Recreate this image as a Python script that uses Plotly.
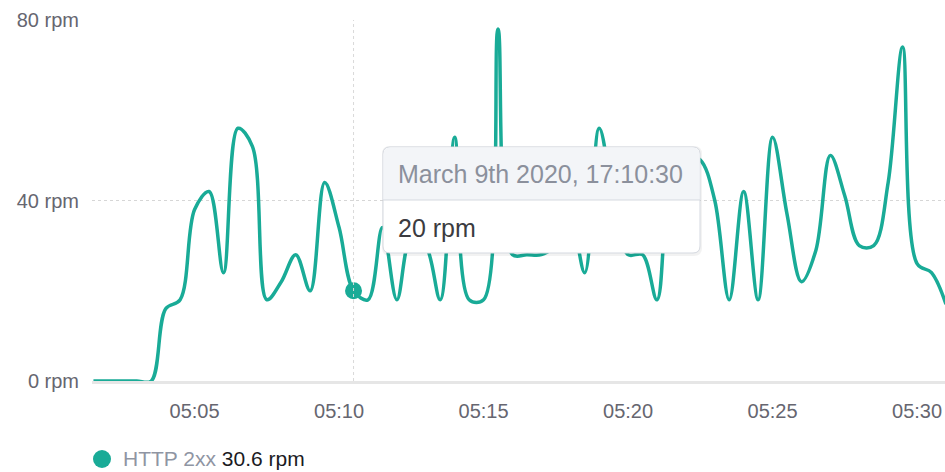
import plotly.graph_objects as go

# ---------------- data ----------------
date = "2020-03-09"
times = [
    "05:01:30", "05:02:00", "05:02:30", "05:03:00", "05:03:30", "05:04:00",
    "05:04:30", "05:05:00", "05:05:30", "05:06:00", "05:06:30", "05:07:00",
    "05:07:30", "05:08:00", "05:08:30", "05:09:00", "05:09:30", "05:10:00",
    "05:10:30", "05:11:00", "05:11:30", "05:12:00", "05:12:30", "05:13:00",
    "05:13:30", "05:14:00", "05:14:30", "05:15:00", "05:15:30", "05:16:00",
    "05:16:30", "05:17:00", "05:17:30", "05:18:00", "05:18:30", "05:19:00",
    "05:19:30", "05:20:00", "05:20:30", "05:21:00", "05:21:30", "05:22:00",
    "05:22:30", "05:23:00", "05:23:30", "05:24:00", "05:24:30", "05:25:00",
    "05:25:30", "05:26:00", "05:26:30", "05:27:00", "05:27:30", "05:28:00",
    "05:28:30", "05:29:00", "05:29:30", "05:30:00", "05:30:30", "05:31:00",
]
rpm = [
    0, 0, 0, 0, 0, 16,
    18, 38, 42, 24, 56, 52,
    18, 22, 28, 20, 44, 34,
    20, 18, 34, 18, 32, 30,
    18, 54, 18, 18, 78, 28,
    28, 28, 30, 36, 24, 56,
    40, 28, 28, 18, 46, 50,
    49, 40, 18, 42, 18, 54,
    37, 22, 29, 50, 41, 30,
    30, 44, 74, 26, 24, 17,
]
y_ticks = [0, 40, 80]
x_tick_labels = ["05:05", "05:10", "05:15", "05:20", "05:25", "05:30"]
x_range = ["05:01:27", "05:30:58"]
hover_time = "05:10:30"
tooltip_title = "March 9th 2020, 17:10:30"
series_name = "HTTP 2xx"
series_summary = "30.6 rpm"
unit = " rpm"

# ---------------- style ----------------
W, H = 945, 472
ML, MR, MT, MB = 92, 0, 20, 91
PW, PH = W - ML - MR, H - MT - MB
TEAL = "#19ab97"
FONT = "Liberation Sans, Arial, sans-serif"


def px(xp):
    """page pixel x -> paper fraction"""
    return (xp - ML) / PW


def py(yp):
    """page pixel y -> paper fraction"""
    return (H - MB - yp) / PH


def rounded_path(x0, y0, x1, y1, r_top, r_bot):
    def P(x, y):
        return f"{px(x):.5f},{py(y):.5f}"
    s = f"M {P(x0 + r_top, y0)} L {P(x1 - r_top, y0)} "
    s += f"Q {P(x1, y0)} {P(x1, y0 + r_top)} " if r_top else ""
    s += f"L {P(x1, y1 - r_bot)} "
    s += f"Q {P(x1, y1)} {P(x1 - r_bot, y1)} " if r_bot else ""
    s += f"L {P(x0 + r_bot, y1)} "
    s += f"Q {P(x0, y1)} {P(x0, y1 - r_bot)} " if r_bot else ""
    s += f"L {P(x0, y0 + r_top)} "
    s += f"Q {P(x0, y0)} {P(x0 + r_top, y0)} " if r_top else ""
    s += "Z"
    return s


xs = [f"{date} {t}" for t in times]
hi = times.index(hover_time)

fig = go.Figure()
fig.add_trace(go.Scatter(
    x=xs, y=rpm, mode="lines",
    line=dict(color=TEAL, width=3.5, shape="spline", smoothing=1.0),
    hoverinfo="skip", showlegend=False,
))
fig.add_trace(go.Scatter(
    x=[xs[hi]], y=[rpm[hi]], mode="markers",
    marker=dict(color=TEAL, size=17, line=dict(width=0)),
    hoverinfo="skip", showlegend=False, cliponaxis=False,
))

shapes = []
# crosshair
shapes.append(dict(type="line", xref="x", yref="y", x0=xs[hi], x1=xs[hi],
                   y0=y_ticks[0], y1=y_ticks[-1], layer="above",
                   line=dict(color="#d9d9d9", width=1, dash="dot")))
# tooltip
tx0, ty0, tx1, ty1, hy = 383, 147, 700, 253, 200
shapes.append(dict(type="path", xref="paper", yref="paper", layer="above",
                   path=rounded_path(tx0 - 1, ty0 - 1, tx1 + 2, ty1 + 3, 8, 8),
                   fillcolor="rgba(0,0,0,0.05)", line=dict(width=0)))
shapes.append(dict(type="path", xref="paper", yref="paper", layer="above",
                   path=rounded_path(tx0, ty0, tx1, ty1, 7, 7),
                   fillcolor="#ffffff", line=dict(color="#d5d9e0", width=1)))
shapes.append(dict(type="path", xref="paper", yref="paper", layer="above",
                   path=rounded_path(tx0 + 0.5, ty0 + 0.5, tx1 - 0.5, hy, 7, 0),
                   fillcolor="#f3f5f8", line=dict(width=0)))
shapes.append(dict(type="line", xref="paper", yref="paper", layer="above",
                   x0=px(tx0), x1=px(tx1), y0=py(hy), y1=py(hy),
                   line=dict(color="#d5d9e0", width=1)))
# legend dot
shapes.append(dict(type="circle", xref="paper", yref="paper",
                   xsizemode="pixel", ysizemode="pixel",
                   xanchor=px(102), yanchor=py(459),
                   x0=-9, x1=9, y0=-9, y1=9,
                   fillcolor=TEAL, line=dict(width=0)))

annotations = [
    dict(xref="paper", yref="paper", x=px(396), y=py(174), xanchor="left",
         yanchor="middle", text=tooltip_title, showarrow=False,
         font=dict(family=FONT, size=25, color="#8b909c")),
    dict(xref="paper", yref="paper", x=px(396), y=py(228), xanchor="left",
         yanchor="middle", text=f"{rpm[hi]}{unit}", showarrow=False,
         font=dict(family=FONT, size=25, color="#3b3b40")),
    dict(xref="paper", yref="paper", x=px(121), y=py(458), xanchor="left",
         yanchor="middle", showarrow=False,
         text=f"<span style='color:#8f95a3'>{series_name}</span> "
              f"<span style='color:#1b1b1f'>{series_summary}</span>",
         font=dict(family=FONT, size=21)),
]

fig.update_layout(
    width=W, height=H,
    margin=dict(l=ML, r=MR, t=MT, b=MB),
    paper_bgcolor="white", plot_bgcolor="white",
    showlegend=False,
    shapes=shapes, annotations=annotations,
    font=dict(family=FONT, size=20, color="#666670"),
    xaxis=dict(
        type="date",
        range=[f"{date} {x_range[0]}", f"{date} {x_range[1]}"],
        tickvals=[f"{date} {t}:00" for t in x_tick_labels],
        ticktext=x_tick_labels,
        showgrid=False, zeroline=False,
        showline=True, linecolor="#e6e6e6", linewidth=3,
        ticks="", ticklabelstandoff=10,
        tickfont=dict(family=FONT, size=20, color="#666670"),
    ),
    yaxis=dict(
        range=[y_ticks[0], y_ticks[-1]],
        tickvals=y_ticks,
        ticktext=[f"{v}{unit}" for v in y_ticks],
        showgrid=True, gridcolor="#d6d6d6", griddash="dot", gridwidth=1,
        zeroline=False, showline=False,
        ticks="", ticklabelstandoff=12,
        tickfont=dict(family=FONT, size=20, color="#666670"),
    ),
)

fig.write_html(
    "out.html",
    config={"displayModeBar": False},
    post_script="document.body.style.margin='0';"
                "document.body.style.overflow='hidden';",
)
